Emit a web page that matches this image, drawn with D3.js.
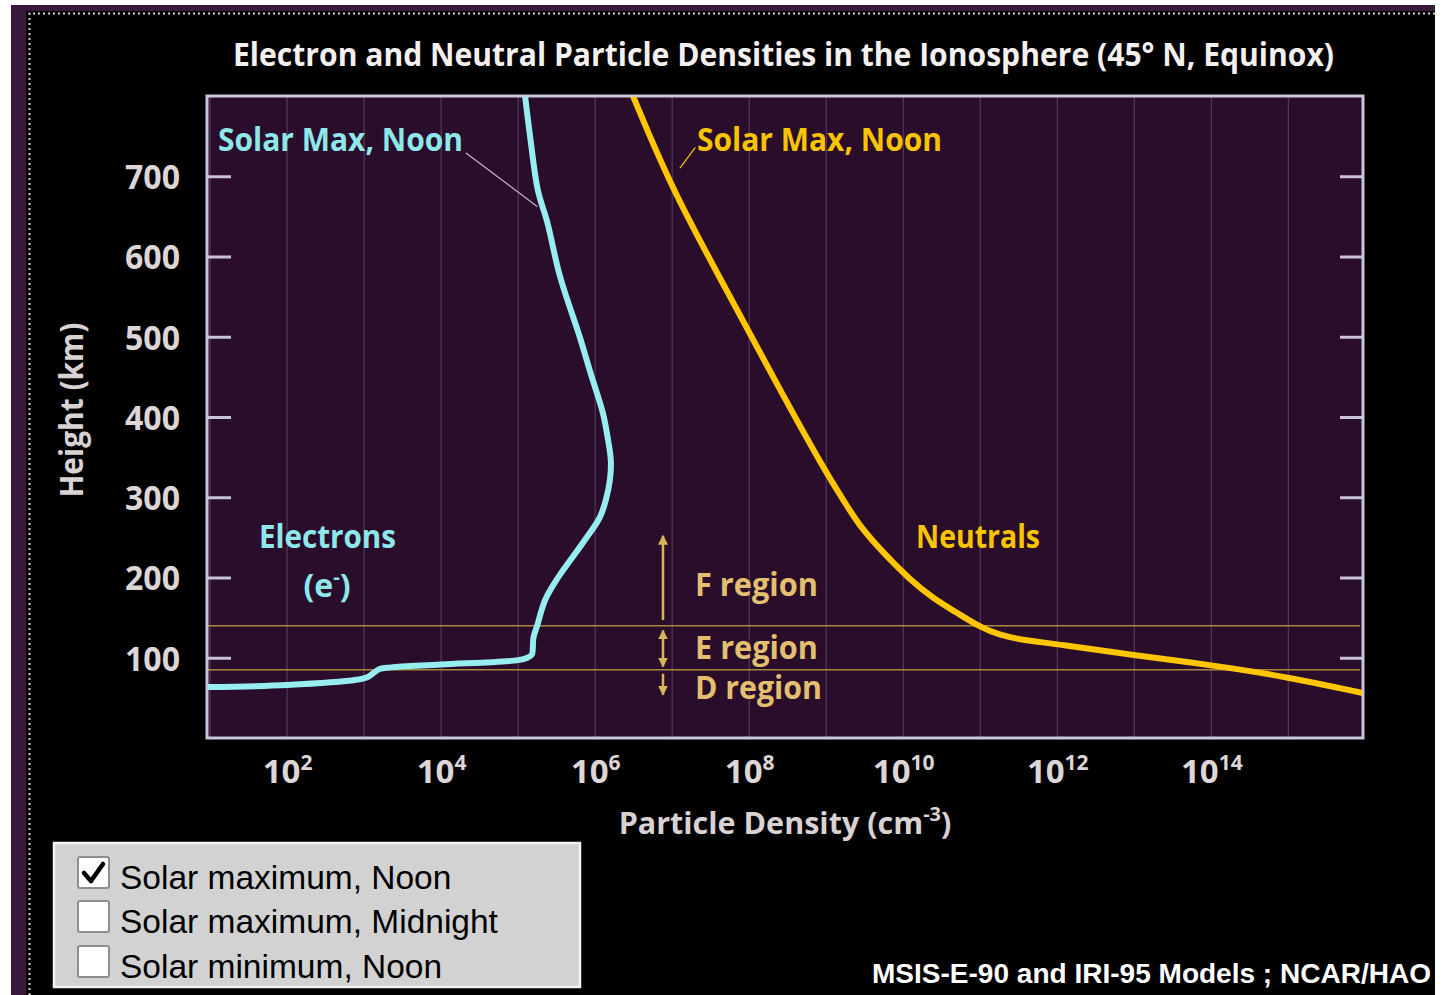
<!DOCTYPE html>
<html>
<head>
<meta charset="utf-8">
<script src="https://cdn.jsdelivr.net/npm/d3@7"></script>
<style>
  html, body { margin: 0; padding: 0; background: #ffffff; }
  svg { display: block; }
</style>
</head>
<body>
<svg id="chart" width="1450" height="995"></svg>
<script>
// ---------------- DATA ----------------
const heightTicks = [100, 200, 300, 400, 500, 600, 700];
const densityTicks = [1e2, 1e4, 1e6, 1e8, 1e10, 1e12, 1e14];
const densityTickExponents = ["2", "4", "6", "8", "10", "12", "14"];
const gridDecades = [1e1, 1e2, 1e3, 1e4, 1e5, 1e6, 1e7, 1e8, 1e9, 1e10, 1e11, 1e12, 1e13, 1e14, 1e15];

// Electrons (IRI-95), solar max, noon
const electronHeightKm = [63.5, 66, 72.5, 76, 86, 88, 91.5, 97, 100, 104, 112, 125, 141, 172, 200, 243, 275, 297, 321, 345, 375, 405, 455, 500, 575, 642, 683, 745, 800];
const electronDensity  = [9.2, 1.0e2, 7.9e2, 1.12e3, 1.58e3, 2.24e3, 1.0e4, 1.0e5, 1.32e5, 1.51e5, 1.55e5, 1.58e5, 1.78e5, 2.24e5, 3.3e5, 6.9e5, 1.15e6, 1.38e6, 1.55e6, 1.6e6, 1.45e6, 1.26e6, 8.7e5, 6.3e5, 3.5e5, 2.4e5, 1.8e5, 1.45e5, 1.23e5];

// Neutrals (MSIS-E-90), solar max, noon
const neutralHeightKm = [56, 56, 76, 91, 103, 117, 122, 128, 138, 156, 174, 197, 231, 263, 297, 330, 437, 558, 683, 800, 800];
const neutralDensity  = [9.3e15, 9.3e15, 1.0e15, 1.0e14, 9.8e12, 1.0e12, 3.6e11, 1.8e11, 1.0e11, 5.0e10, 2.45e10, 1.23e10, 5.5e9, 2.75e9, 1.66e9, 1.0e9, 2.4e8, 5.1e7, 1.0e7, 3.1e6, 3.1e6];

// Region boundaries (km)
const regionBoundariesKm = [85, 140];
const regionNames = ["F region", "E region", "D region"];

const legendItems = ["Solar maximum, Noon", "Solar maximum, Midnight", "Solar minimum, Noon"];
const legendChecked = [true, false, false];

// ---------------- LAYOUT ----------------
const svg = d3.select("#chart");
const W = 1450, H = 995;
const plot = { left: 207, right: 1363, top: 96, bottom: 738 };
const FONT = "'Open Sans', 'DejaVu Sans', sans-serif";
const ARIAL = "'Liberation Sans', Arial, sans-serif";
const WEIGHT = 700;

const x = d3.scaleLog().domain([9.12, 9.33e15]).range([plot.left, plot.right]);
const y = d3.scaleLinear().domain([0, 800]).range([plot.bottom, plot.top]);

function fit(sel, w) { return sel.attr("textLength", w).attr("lengthAdjust", "spacingAndGlyphs"); }

// Frame / backgrounds
svg.append("rect").attr("x", 0).attr("y", 0).attr("width", W).attr("height", H).attr("fill", "#ffffff");
svg.append("rect").attr("x", 11).attr("y", 5).attr("width", 1424).attr("height", H - 5).attr("fill", "#3a1a3a");
svg.append("rect").attr("x", 26).attr("y", 11).attr("width", 1409).attr("height", H - 11).attr("fill", "#000000");
svg.append("path")
  .attr("d", `M29.5,${H} L29.5,13.5 L1435,13.5`)
  .attr("fill", "none").attr("stroke", "#d6cfd8").attr("stroke-width", 2)
  .attr("stroke-dasharray", "2,3");

// Title
fit(svg.append("text")
  .attr("x", 233).attr("y", 66)
  .attr("font-family", FONT).attr("font-weight", WEIGHT).attr("font-size", 33)
  .attr("fill", "#f4f0f0")
  .text("Electron and Neutral Particle Densities in the Ionosphere (45° N, Equinox)"), 1101);

// Plot background
svg.append("rect")
  .attr("x", plot.left).attr("y", plot.top)
  .attr("width", plot.right - plot.left).attr("height", plot.bottom - plot.top)
  .attr("fill", "#2a0d2b");

// Vertical gridlines (one per decade)
svg.append("g").selectAll("line").data(gridDecades).join("line")
  .attr("x1", d => x(d)).attr("x2", d => x(d))
  .attr("y1", plot.top).attr("y2", plot.bottom)
  .attr("stroke", "#6e5a78").attr("stroke-width", 1).attr("opacity", 0.7);

// Region boundary lines
svg.append("g").selectAll("line").data(regionBoundariesKm).join("line")
  .attr("x1", plot.left).attr("x2", plot.right - 3)
  .attr("y1", d => y(d)).attr("y2", d => y(d))
  .attr("stroke", "#a8883e").attr("stroke-width", 1.5);

// Axes ticks (inside)
const axisColor = "#c9c2d8";
const yLeft = svg.append("g").attr("transform", `translate(${plot.left},0)`)
  .call(d3.axisLeft(y).tickValues(heightTicks).tickSizeInner(-24).tickSizeOuter(0).tickPadding(27).tickFormat(d3.format("d")));
yLeft.select(".domain").remove();
yLeft.selectAll("line").attr("stroke", axisColor).attr("stroke-width", 3);
yLeft.selectAll("text")
  .attr("font-family", FONT).attr("font-weight", WEIGHT).attr("font-size", 34)
  .attr("fill", "#dcd6d6").attr("dy", "0.36em")
  .attr("textLength", 55).attr("lengthAdjust", "spacingAndGlyphs");

const yRight = svg.append("g").attr("transform", `translate(${plot.right},0)`)
  .call(d3.axisRight(y).tickValues(heightTicks).tickSizeInner(-23).tickSizeOuter(0).tickFormat(""));
yRight.select(".domain").remove();
yRight.selectAll("line").attr("stroke", axisColor).attr("stroke-width", 3);

const xAxis = svg.append("g").attr("transform", `translate(0,${plot.bottom})`)
  .call(d3.axisBottom(x).tickValues(densityTicks).tickSize(0).tickPadding(45).tickFormat(""));
xAxis.select(".domain").remove();
xAxis.selectAll(".tick text").each(function(d, i) {
  const t = d3.select(this)
    .attr("font-family", FONT).attr("font-weight", WEIGHT).attr("font-size", 33)
    .attr("fill", "#dcd6d6").attr("text-anchor", "middle").attr("dy", 0);
  t.append("tspan").text("10");
  t.append("tspan").attr("font-size", 21).attr("dy", -13).text(densityTickExponents[i]);
});

// Plot border
svg.append("rect")
  .attr("x", plot.left).attr("y", plot.top)
  .attr("width", plot.right - plot.left).attr("height", plot.bottom - plot.top)
  .attr("fill", "none").attr("stroke", "#cbc6dc").attr("stroke-width", 3);

// Axis titles
fit(svg.append("text")
  .attr("transform", "translate(83,410) rotate(-90)")
  .attr("text-anchor", "middle")
  .attr("font-family", FONT).attr("font-weight", WEIGHT).attr("font-size", 32)
  .attr("fill", "#d8d2d2")
  .text("Height (km)"), 175);

const xt = svg.append("text")
  .attr("x", 785).attr("y", 834).attr("text-anchor", "middle")
  .attr("font-family", FONT).attr("font-weight", WEIGHT).attr("font-size", 30.5)
  .attr("fill", "#d8d2d2");
xt.append("tspan").text("Particle Density (cm");
xt.append("tspan").attr("font-size", 20).attr("dy", -13).text("-3");
xt.append("tspan").attr("dy", 13).text(")");

// Curves
const eLine = d3.line().x(d => x(d[0])).y(d => y(d[1])).curve(d3.curveCatmullRom.alpha(0.5));
const nLine = d3.line().x(d => x(d[0])).y(d => y(d[1])).curve(d3.curveBasis);
const eData = electronDensity.map((v, i) => [v, electronHeightKm[i]]);
const nData = neutralDensity.map((v, i) => [v, neutralHeightKm[i]]);

svg.append("clipPath").attr("id", "plotclip").append("rect")
  .attr("x", plot.left + 1).attr("y", plot.top + 1)
  .attr("width", plot.right - plot.left - 2).attr("height", plot.bottom - plot.top - 2);

svg.append("path").datum(eData).attr("clip-path", "url(#plotclip)")
  .attr("d", eLine).attr("fill", "none")
  .attr("stroke", "#96eef0").attr("stroke-width", 6).attr("stroke-linejoin", "round");
svg.append("path").datum(nData).attr("clip-path", "url(#plotclip)")
  .attr("d", nLine).attr("fill", "none")
  .attr("stroke", "#ffc600").attr("stroke-width", 6).attr("stroke-linejoin", "round");

// Region arrows
const gold = "#d9b458";
const defs = svg.append("defs");
defs.append("marker").attr("id", "ah").attr("viewBox", "0 0 10 10")
  .attr("refX", 9).attr("refY", 5).attr("markerWidth", 10).attr("markerHeight", 12)
  .attr("markerUnits", "userSpaceOnUse").attr("orient", "auto-start-reverse")
  .append("path").attr("d", "M0,0 L10,5 L0,10 Z").attr("fill", gold);

const arrowX = x(7.6e6);
const arrows = [
  { from: 147, to: 252, start: false },
  { from: 134, to: 89, start: true },
  { from: 80, to: 54, start: false }
];
svg.append("g").selectAll("line").data(arrows).join("line")
  .attr("x1", arrowX).attr("x2", arrowX)
  .attr("y1", d => y(d.from)).attr("y2", d => y(d.to))
  .attr("stroke", gold).attr("stroke-width", 2.5)
  .attr("marker-end", "url(#ah)")
  .attr("marker-start", d => d.start ? "url(#ah)" : null);

const regionLabelY = [596, 659, 699];
svg.append("g").selectAll("text").data(regionNames).join("text")
  .attr("x", 695).attr("y", (d, i) => regionLabelY[i])
  .attr("font-family", FONT).attr("font-weight", WEIGHT).attr("font-size", 32)
  .attr("fill", "#e2c070")
  .attr("textLength", (d, i) => i === 2 ? 127 : 123).attr("lengthAdjust", "spacingAndGlyphs")
  .text(d => d);

// Curve labels
const cyan = "#8ee8ea";
const yellow = "#f8c400";
fit(svg.append("text").attr("x", 218).attr("y", 151)
  .attr("font-family", FONT).attr("font-weight", WEIGHT).attr("font-size", 33)
  .attr("fill", cyan).text("Solar Max, Noon"), 245);
svg.append("line")
  .attr("x1", x(2.1e4)).attr("y1", y(729)).attr("x2", x(1.78e5)).attr("y2", y(662))
  .attr("stroke", "#c2b4c6").attr("stroke-width", 1.2);

fit(svg.append("text").attr("x", 697).attr("y", 151)
  .attr("font-family", FONT).attr("font-weight", WEIGHT).attr("font-size", 33)
  .attr("fill", yellow).text("Solar Max, Noon"), 245);
svg.append("line")
  .attr("x1", x(2.0e7)).attr("y1", y(736)).attr("x2", x(1.26e7)).attr("y2", y(710))
  .attr("stroke", yellow).attr("stroke-width", 1.2);

fit(svg.append("text").attr("x", 259).attr("y", 548)
  .attr("font-family", FONT).attr("font-weight", WEIGHT).attr("font-size", 32)
  .attr("fill", cyan).text("Electrons"), 137);
const eq = svg.append("text").attr("x", 327).attr("y", 597).attr("text-anchor", "middle")
  .attr("font-family", FONT).attr("font-weight", WEIGHT).attr("font-size", 32)
  .attr("fill", cyan);
eq.append("tspan").text("(e");
eq.append("tspan").attr("font-size", 20).attr("dy", -13).text("-");
eq.append("tspan").attr("dy", 13).text(")");

fit(svg.append("text").attr("x", 916).attr("y", 548)
  .attr("font-family", FONT).attr("font-weight", WEIGHT).attr("font-size", 32)
  .attr("fill", yellow).text("Neutrals"), 124);

// Legend (checkbox panel)
const lg = svg.append("g");
lg.append("rect").attr("x", 54).attr("y", 843).attr("width", 526).attr("height", 144)
  .attr("fill", "#d2d2d2").attr("stroke", "#f4f4f4").attr("stroke-width", 2.5);
const boxY = [857, 901, 946];
const textY = [889, 933, 978];
legendItems.forEach((label, i) => {
  lg.append("rect").attr("x", 78).attr("y", boxY[i]).attr("width", 31).attr("height", 31)
    .attr("rx", 2).attr("fill", "#ffffff").attr("stroke", "#8e8e8e").attr("stroke-width", 2);
  if (legendChecked[i]) {
    lg.append("path")
      .attr("d", `M${84},${boxY[i] + 16} L${91},${boxY[i] + 24} L${103},${boxY[i] + 7}`)
      .attr("fill", "none").attr("stroke", "#000").attr("stroke-width", 4.5)
      .attr("stroke-linecap", "round").attr("stroke-linejoin", "round");
  }
  lg.append("text").attr("x", 120).attr("y", textY[i])
    .attr("font-family", ARIAL).attr("font-size", 33.5).attr("fill", "#000")
    .text(label);
});

// Credit
fit(svg.append("text").attr("x", 872).attr("y", 983)
  .attr("font-family", ARIAL).attr("font-weight", 700).attr("font-size", 28)
  .attr("fill", "#ffffff").text("MSIS-E-90 and IRI-95 Models ; NCAR/HAO"), 559);
</script>
</body>
</html>
